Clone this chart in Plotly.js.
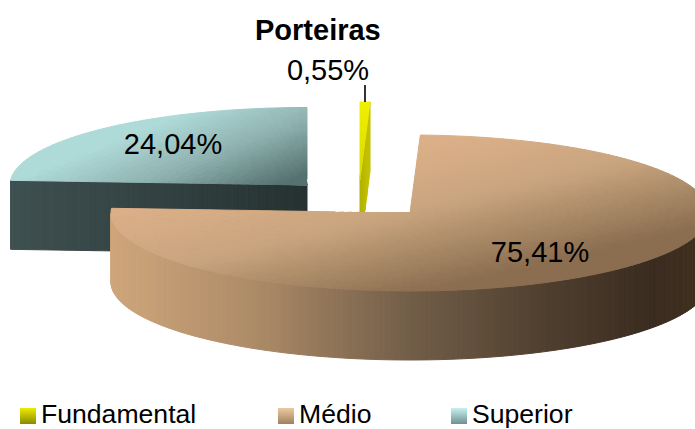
<!DOCTYPE html>
<html><head><meta charset="utf-8">
<script src="https://cdn.plot.ly/plotly-3.0.1.min.js"></script>
<style>html,body{margin:0;padding:0;background:#fff}</style>
</head><body><div id="chart" style="width:695px;height:429px"></div>
<script>
// Data
const title = "Porteiras";
const categories = ["Fundamental", "Médio", "Superior"];
const values = [0.55, 75.41, 24.04];
const valueLabels = ["0,55%", "75,41%", "24,04%"];

// 3D pie projection (exploded slices)
const centers = [[360, 180], [410, 213], [307, 185]];
const radii = [[290, 78], [299, 78], [297, 77.5]];
const depth = 69;
const total = values.reduce((a, b) => a + b, 0);
const angles = []; let acc = 0;
values.forEach(v => { const a0 = acc / total * 360; acc += v; angles.push([a0, acc / total * 360]); });

function hex(c){return [1,3,5].map(i=>parseInt(c.substr(i,2),16));}
function ramp(stops,s){
  if(s<=stops[0][0]) return hex(stops[0][1]);
  for(let i=1;i<stops.length;i++){
    if(s<=stops[i][0]){
      const t=(s-stops[i-1][0])/(stops[i][0]-stops[i-1][0]);
      const a=hex(stops[i-1][1]),b=hex(stops[i][1]);
      return a.map((v,k)=>Math.round(v+(b[k]-v)*t));
    }
  }
  return hex(stops[stops.length-1][1]);
}
const topShade = [
  {stops:[[0,'#f0f000'],[1,'#d8d800']],s:(x,y)=>(y-102)/78,step:0.05},
  {stops:[[0,'#dbb088'],[0.47,'#c8a47e'],[1.05,'#8b6e50']],s:(x,y)=>(x-400)/300*0.5+(y-150)/140,step:0.02},
  {stops:[[0.2,'#aedad8'],[0.6,'#8fb2b0'],[1.02,'#567270']],s:(x,y)=>(x-100)/200*0.6+(y-120)/60*0.45,step:0.02}
];
const wallShade = [
  {stops:[[360,'#b0b000'],[370,'#c4c400']],s:(x,y)=>x,step:1},
  {stops:[[111,'#cfa67c'],[250,'#ae8c68'],[400,'#75604a'],[550,'#4e3e2e'],[650,'#3a2c20'],[695,'#40301f']],s:(x,y)=>x,step:5},
  {stops:[[10,'#3f5050'],[307,'#263232']],s:(x,y)=>x,step:12}
];
const buckets = new Map();
function addQuad(order,pts,shade){
  const c=[pts.reduce((a,p)=>a+p[0],0)/pts.length,pts.reduce((a,p)=>a+p[1],0)/pts.length];
  const q=Math.round(shade.s(c[0],c[1])/shade.step)*shade.step;
  const color='rgb('+ramp(shade.stops,q).join(',')+')';
  const key=order+'|'+color;
  if(!buckets.has(key)) buckets.set(key,{order,color,x:[],y:[]});
  const b=buckets.get(key);
  pts.forEach(p=>{b.x.push(p[0]);b.y.push(p[1]);});
  b.x.push(pts[0][0],null);b.y.push(pts[0][1],null);
}
function pt(i,deg,f){
  const r=deg*Math.PI/180;
  return [centers[i][0]+radii[i][0]*f*Math.sin(r),centers[i][1]-radii[i][1]*f*Math.cos(r)];
}
function drawSlice(i,order){
  const [a0,a1]=angles[i];
  // outer wall, front half only
  const wa0=Math.max(a0,90),wa1=Math.min(a1,270);
  const ws=Math.ceil(wa1-wa0);
  if(wa1>wa0) for(let k=0;k<ws;k++){
    const d0=wa0+(wa1-wa0)*k/ws,d1=wa0+(wa1-wa0)*(k+1)/ws;
    const p0=pt(i,d0,1),p1=pt(i,d1,1);
    addQuad(order,[p0,p1,[p1[0],p1[1]+depth],[p0[0],p0[1]+depth]],wallShade[i]);
  }
  // radial faces turned to the viewer
  const faceDeg = i===0? a1 : (i===2? a0 : null);
  if(faceDeg!==null){
    const n=i===0?6:60;
    for(let k=0;k<n;k++){
      const p0=pt(i,faceDeg,k/n),p1=pt(i,faceDeg,(k+1)/n);
      addQuad(order,[p0,p1,[p1[0],p1[1]+depth],[p0[0],p0[1]+depth]],wallShade[i]);
    }
  }
  // top surface
  const rings=36,secs=Math.max(1,Math.ceil((a1-a0)/2));
  for(let r=0;r<rings;r++)for(let s=0;s<secs;s++){
    const d0=a0+(a1-a0)*s/secs,d1=a0+(a1-a0)*(s+1)/secs,f0=r/rings,f1=(r+1)/rings;
    addQuad(order+0.5,[pt(i,d0,f0),pt(i,d0,f1),pt(i,d1,f1),pt(i,d1,f0)],topShade[i]);
  }
}
// back to front
drawSlice(2,0);drawSlice(0,1);drawSlice(1,2);

const traces=[...buckets.values()].sort((a,b)=>a.order-b.order).map(b=>({
  type:'scatter',mode:'lines',x:b.x,y:b.y,fill:'toself',fillcolor:b.color,
  line:{color:b.color,width:1},hoverinfo:'skip',showlegend:false
}));

// leader line
traces.push({type:'scatter',mode:'lines',x:[365,365],y:[85,102],line:{color:'#000',width:1.6},hoverinfo:'skip',showlegend:false});

// value labels
const labelPos=[[328,73],[540,255],[173,147]];
traces.push({type:'scatter',mode:'text',x:labelPos.map(p=>p[0]),y:labelPos.map(p=>p[1]),text:valueLabels,
  textposition:'middle center',textfont:{family:'Liberation Sans, Arial, sans-serif',size:29,color:'#000'},hoverinfo:'skip',showlegend:false});

// legend row
const legendX=[28,286,459];
const legendColors=['#ecec00','#eccaa0','#c8f0f0'];
const legendEnd=['#8a8a00','#a08060','#6f9090'];
traces.push({type:'scatter',mode:'markers',x:legendX,y:[416,416,416],
  marker:{symbol:'square',size:16,color:legendColors,gradient:{type:'vertical',color:legendEnd},line:{width:0}},hoverinfo:'skip',showlegend:false});
traces.push({type:'scatter',mode:'text',x:legendX.map(v=>v+13),y:[416.5,416.5,416.5],text:categories,
  textposition:'middle right',textfont:{family:'Liberation Sans, Arial, sans-serif',size:26.6,color:'#000'},hoverinfo:'skip',showlegend:false});

const layout={
  width:695,height:429,margin:{l:0,r:0,t:0,b:0},paper_bgcolor:'#fff',plot_bgcolor:'#fff',showlegend:false,
  xaxis:{range:[0,695],visible:false,fixedrange:true},
  yaxis:{range:[429,0],visible:false,fixedrange:true},
  annotations:[{text:'<b>'+title+'</b>',xref:'x',yref:'y',x:318,y:30,showarrow:false,xanchor:'center',yanchor:'middle',
    font:{family:'Liberation Sans, Arial, sans-serif',size:29,color:'#000'}}]
};
Plotly.newPlot('chart',traces,layout,{displayModeBar:false,staticPlot:true});
</script></body></html>
